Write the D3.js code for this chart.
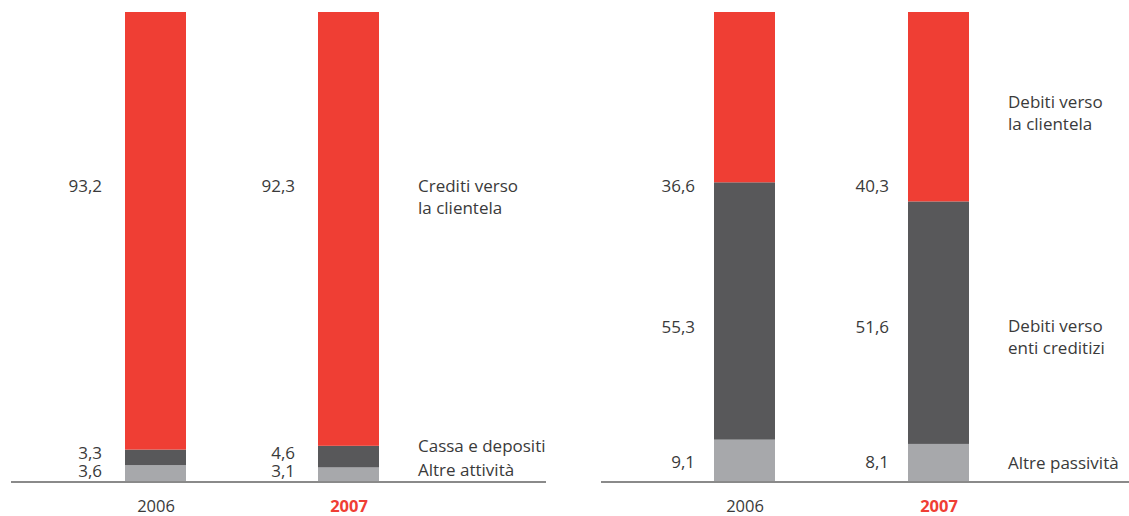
<!DOCTYPE html>
<html>
<head>
<meta charset="utf-8">
<script src="https://cdn.jsdelivr.net/npm/d3@7"></script>
<style>
  html, body { margin: 0; padding: 0; background: #fff; }
  svg text { font-family: "Open Sans", "Noto Sans", sans-serif; font-size: 17px; fill: #3a3a3a; }
</style>
</head>
<body>
<svg id="chart" width="1129" height="516"></svg>
<script>
// Years shown under each bar
const years = ["2006", "2007"];

// Assets (attivo) composition, % — bottom to top
const attivoSeries = ["Altre attività", "Cassa e depositi", "Crediti verso la clientela"];
const attivo2006 = [3.6, 3.3, 93.2];
const attivo2007 = [3.1, 4.6, 92.3];

// Liabilities (passivo) composition, % — bottom to top
const passivoSeries = ["Altre passività", "Debiti verso enti creditizi", "Debiti verso la clientela"];
const passivo2006 = [9.1, 55.3, 36.6];
const passivo2007 = [8.1, 51.6, 40.3];

// Legend lines for each series
const attivoLegend = [["Altre attività"], ["Cassa e depositi"], ["Crediti verso", "la clientela"]];
const passivoLegend = [["Altre passività"], ["Debiti verso", "enti creditizi"], ["Debiti verso", "la clientela"]];

const colors = ["#a7a8ab", "#58585a", "#ef3e34"];
const fmt = v => d3.format(".1f")(v).replace(".", ",");

const svg = d3.select("#chart");
const baseY = 482, topY = 12, barW = 61;
const y = d3.scaleLinear().domain([0, 1]).range([baseY, topY]);

const panels = [
  {
    series: attivoSeries, values: [attivo2006, attivo2007], legend: attivoLegend,
    centers: [155.5, 348.5], lineX: [11, 546], legendX: 418, labelGap: 23,
    valueLabelY: [477, 459, 192], legendY: [476, 452, 192]
  },
  {
    series: passivoSeries, values: [passivo2006, passivo2007], legend: passivoLegend,
    centers: [744.5, 938.5], lineX: [601, 1129], legendX: 1008, labelGap: 19,
    valueLabelY: [468, 333, 192], legendY: [469, 332, 108]
  }
];

panels.forEach(p => {
  const rows = years.map((yr, i) => {
    const r = { year: yr };
    p.series.forEach((s, j) => { r[s] = p.values[i][j]; });
    return r;
  });
  const stack = d3.stack().keys(p.series).offset(d3.stackOffsetExpand)(rows);

  const x = d3.scalePoint().domain(years).range(p.centers);
  const g = svg.append("g");

  // stacked segments
  g.selectAll("g.layer").data(stack).join("g")
    .attr("class", "layer")
    .attr("fill", (d, i) => colors[i])
    .selectAll("rect").data(d => d).join("rect")
      .attr("x", d => x(d.data.year) - barW / 2)
      .attr("width", barW)
      .attr("y", d => y(d[1]))
      .attr("height", d => y(d[0]) - y(d[1]));

  // value labels to the left of each bar
  years.forEach((yr, i) => {
    p.series.forEach((s, j) => {
      g.append("text")
        .attr("x", x(yr) - barW / 2 - p.labelGap)
        .attr("y", p.valueLabelY[j])
        .attr("text-anchor", "end")
        .text(fmt(p.values[i][j]));
    });
  });

  // legend text on the right
  p.legend.forEach((lines, j) => {
    const t = g.append("text").attr("x", p.legendX).attr("y", p.legendY[j]);
    lines.forEach((ln, k) => {
      t.append("tspan").attr("x", p.legendX).attr("dy", k === 0 ? 0 : 22).text(ln);
    });
  });

  // baseline
  g.append("line")
    .attr("x1", p.lineX[0]).attr("x2", p.lineX[1])
    .attr("y1", baseY).attr("y2", baseY)
    .attr("stroke", "#8a8a8a").attr("stroke-width", 2);

  // year labels
  const ax = g.append("g").attr("transform", `translate(0,${baseY})`)
    .call(d3.axisBottom(x).tickSize(0));
  ax.select(".domain").remove();
  ax.selectAll("text")
    .attr("y", 30).attr("dy", 0)
    .style("font-size", "16.5px")
    .style("font-family", '"Open Sans", "Noto Sans", sans-serif')
    .style("fill", d => d === "2007" ? "#ef3e34" : "#3a3a3a")
    .style("font-weight", d => d === "2007" ? "bold" : "normal");
});
</script>
</body>
</html>
